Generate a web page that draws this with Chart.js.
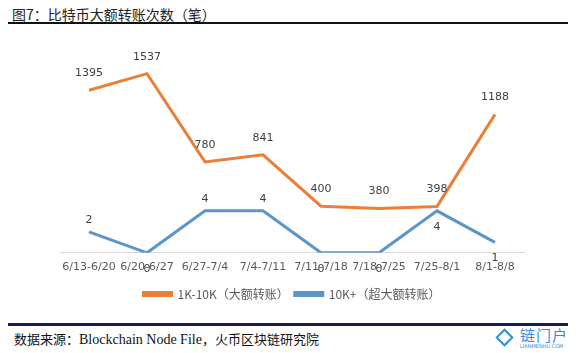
<!DOCTYPE html>
<html>
<head>
<meta charset="utf-8">
<script src="https://cdn.jsdelivr.net/npm/chart.js@4"></script>
<style>
  body { margin: 0; background: #fff; width: 580px; height: 353px; position: relative; overflow: hidden; font-family: "Noto Sans CJK SC", sans-serif; }
  #title { position: absolute; left: 12px; top: 4px; font-size: 14px; color: #222; }
  #topline { position: absolute; left: 8px; top: 22px; width: 560px; height: 2px; background: #111; }
  #box { position: absolute; left: 0; top: 28px; width: 580px; height: 282px; }
  #botline { position: absolute; left: 8px; top: 323px; width: 560px; height: 3px; background: #1b1b5c; }
  #source { position: absolute; left: 14px; top: 329px; font-size: 13px; color: #111; }
  #source .en { font-family: "Liberation Serif", serif; font-size: 14px; }
  #logo { position: absolute; left: 498px; top: 327px; color: #2f8fd8; white-space: nowrap; }
  #logo .mark { position: absolute; left: 0; top: 4px; width: 9px; height: 9px; border: 2px solid #2f8fd8; transform: rotate(45deg); }
  #logo .cn { position: absolute; left: 22px; top: -3px; font-size: 15px; letter-spacing: 1px; }
  #logo .url { position: absolute; left: 22px; top: 16px; font-size: 5px; font-family: "DejaVu Sans", sans-serif; }
</style>
</head>
<body>
<div id="title">图7：比特币大额转账次数（笔）</div>
<div id="topline"></div>
<div id="box"><canvas id="chart"></canvas></div>
<div id="botline"></div>
<div id="source">数据来源：<span class="en">Blockchain Node File</span>，火币区块链研究院</div>
<div id="logo"><div class="mark"></div><div class="cn">链门户</div><div class="url">LIANMENHU.COM</div></div>
<script>
const weeks = ['6/13-6/20', '6/20-6/27', '6/27-7/4', '7/4-7/11', '7/11-7/18', '7/18-7/25', '7/25-8/1', '8/1-8/8'];
const bigTx = [1395, 1537, 780, 841, 400, 380, 398, 1188];
const hugeTx = [2, 0, 4, 4, 0, 0, 4, 1];
const hugeLabelSide = ['above', 'below', 'above', 'above', 'below', 'below', 'below', 'below'];

const pointLabels = {
  id: 'pointLabels',
  afterDatasetsDraw(chart) {
    const c = chart.ctx;
    c.save();
    c.font = '11px "DejaVu Sans", sans-serif';
    c.fillStyle = '#404040';
    c.textAlign = 'center';
    c.textBaseline = 'middle';
    chart.data.datasets.forEach((ds, i) => {
      chart.getDatasetMeta(i).data.forEach((pt, j) => {
        let dy = -17;
        if (i === 1) dy = hugeLabelSide[j] === 'above' ? -12 : 16;
        c.fillText(ds.data[j], pt.x, pt.y + dy);
      });
    });
    c.restore();
  }
};

new Chart(document.getElementById('chart'), {
  type: 'line',
  data: {
    labels: weeks,
    datasets: [{
      label: '1K-10K（大额转账）',
      data: bigTx,
      borderColor: '#e8803a',
      backgroundColor: '#e8803a',
      borderWidth: 3,
      pointRadius: 0,
      tension: 0,
      yAxisID: 'y'
    }, {
      label: '10K+（超大额转账）',
      data: hugeTx,
      borderColor: '#5b95c9',
      backgroundColor: '#5b95c9',
      borderWidth: 3,
      pointRadius: 0,
      tension: 0,
      yAxisID: 'y2'
    }]
  },
  options: {
    responsive: true,
    maintainAspectRatio: false,
    animation: false,
    layout: { padding: { left: 60, right: 56, top: 15, bottom: 0 } },
    scales: {
      x: {
        offset: true,
        grid: { display: false, drawTicks: false },
        border: { color: '#d9d9d9' },
        ticks: { color: '#595959', font: { size: 11, family: '"DejaVu Sans", sans-serif' }, maxRotation: 0, autoSkip: false, padding: 8 }
      },
      y: { display: false, min: 0, max: 1800 },
      y2: { display: false, min: 0, max: 20 }
    },
    plugins: {
      legend: {
        position: 'bottom',
        labels: { boxWidth: 28, boxHeight: 3, color: '#595959', font: { size: 12, family: '"Noto Sans CJK SC", sans-serif' }, padding: 6 }
      },
      tooltip: { enabled: false }
    }
  },
  plugins: [pointLabels]
});
</script>
</body>
</html>
